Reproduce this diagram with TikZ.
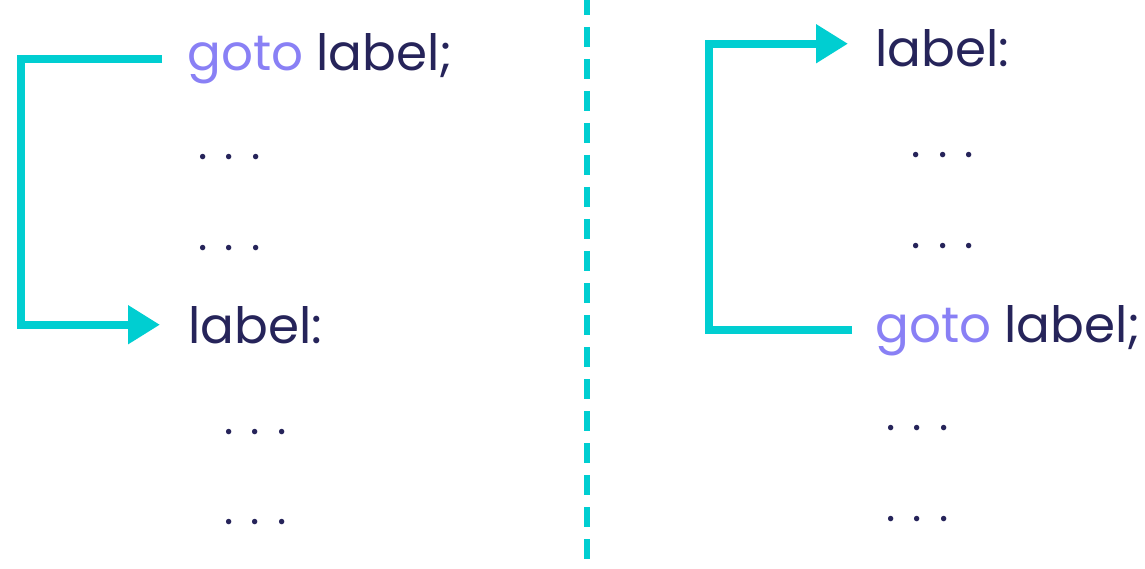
\documentclass[tikz,border=0pt]{standalone}
\usepackage{fontspec}
\setmainfont{Poppins}
\usetikzlibrary{positioning, arrows.meta, calc}
\definecolor{cJump}{RGB}{0,206,209}
\definecolor{cCode}{RGB}{38,36,90}
\definecolor{cKey}{RGB}{137,128,245}
\newcommand{\kw}[1]{\textcolor{cKey}{#1}}
\newcommand{\dotrow}{\makebox[26.5pt]{.}\makebox[26.5pt]{.}\makebox[26.5pt]{.}}

\begin{document}
\begin{tikzpicture}[x=1pt, y=-1pt,
    code/.style={inner sep=0pt, anchor=base west, text=cCode, font=\fontsize{50}{58}\selectfont},
    gap/.style={inner sep=0pt, anchor=base, text=cCode, font=\fontsize{44}{52}\selectfont},
    jump/.style={draw=cJump, line width=8pt, -{Triangle[length=32pt, width=37pt]}},
    divider/.style={draw=cJump, line width=6pt, dash pattern=on 20pt off 12pt, dash phase=5pt}]
    \useasboundingbox (0,0) rectangle (1145,569);

    % left: jump forward
    \node[code] (gotoL) at (187,71) {\kw{goto} label;};
    \node[gap] (dL1) at (229.5,160) {\dotrow};
    \node[gap] (dL2) at (229.5,251) {\dotrow};
    \node[code] (labelL) at (188,343) {label:};
    \node[gap] (dL3) at (255.5,434) {\dotrow};
    \node[gap] (dL4) at (255.5,524) {\dotrow};
    \coordinate (railL) at (21,0);
    \draw[jump, shorten <=25pt, shorten >=28pt]
        (gotoL.west) -- (gotoL.west -| railL) |- (labelL.west);

    % divider
    \coordinate (divTop) at (587,0);
    \coordinate (divBot) at (587,569);
    \draw[divider] (divTop) -- (divBot);

    % right: jump backward
    \node[code] (labelR) at (875,67) {label:};
    \node[gap] (dR1) at (943,158) {\dotrow};
    \node[gap] (dR2) at (943,249) {\dotrow};
    \node[code] (gotoR) at (875,342) {\kw{goto} label;};
    \node[gap] (dR3) at (917.5,430) {\dotrow};
    \node[gap] (dR4) at (917.5,521) {\dotrow};
    \coordinate (railR) at (709,0);
    \draw[jump, shorten <=23pt, shorten >=27pt]
        (gotoR.west) -- (gotoR.west -| railR) |- ([yshift=5pt]labelR.west);
\end{tikzpicture}
\end{document}
